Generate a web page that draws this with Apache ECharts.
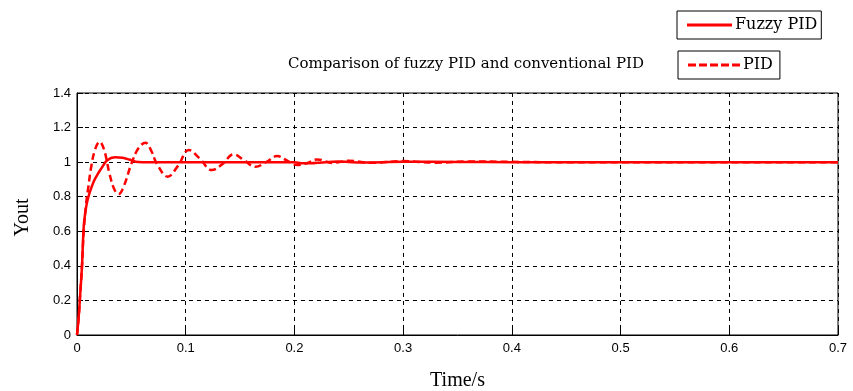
<!DOCTYPE html>
<html>
<head>
<meta charset="utf-8">
<script src="https://cdn.jsdelivr.net/npm/echarts@6/dist/echarts.min.js"></script>
<style>
  html, body { margin: 0; padding: 0; background: #fff; }
  #chart { width: 853px; height: 391px; }
</style>
</head>
<body>
<div id="chart"></div>
<script>
// fuzzy PID response
const fuzzyTime = [0, 0.0015, 0.003, 0.0046, 0.0062, 0.0084, 0.0105, 0.0125, 0.0155, 0.0185, 0.022, 0.0276, 0.035, 0.042, 0.048, 0.054, 0.06, 0.1, 0.2, 0.206, 0.215, 0.225, 0.24, 0.26, 0.3, 0.35, 0.4, 0.45, 0.7];
const fuzzyY = [0, 0.1, 0.24, 0.4, 0.63, 0.74, 0.8, 0.84, 0.89, 0.925, 0.96, 1.01, 1.028, 1.026, 1.015, 1.002, 1.0, 1.0, 1.0, 0.994, 0.993, 0.998, 1.003, 0.998, 1.002, 1.001, 1.0, 1.0, 1.0];

// conventional PID response
const pidTime = [0, 0.0015, 0.003, 0.0046, 0.0062, 0.0084, 0.0105, 0.013, 0.0165, 0.0208, 0.025, 0.03, 0.0345, 0.0383, 0.043, 0.05, 0.0565, 0.0629, 0.068, 0.0735, 0.0834, 0.093, 0.1028, 0.113, 0.124, 0.134, 0.144, 0.154, 0.164, 0.174, 0.184, 0.193, 0.2026, 0.212, 0.221, 0.235, 0.25, 0.27, 0.3, 0.33, 0.36, 0.4, 0.44, 0.5, 0.6, 0.7];
const pidY = [0, 0.1, 0.24, 0.4, 0.6, 0.76, 0.86, 0.97, 1.07, 1.118, 1.07, 0.93, 0.84, 0.815, 0.86, 0.99, 1.08, 1.112, 1.07, 0.99, 0.916, 0.98, 1.07, 1.02, 0.954, 0.99, 1.045, 1.01, 0.973, 1.0, 1.035, 1.01, 0.983, 0.995, 1.016, 0.995, 1.008, 0.996, 1.006, 0.997, 1.004, 1.002, 0.999, 1, 1, 1];

const xTicks = [0, 0.1, 0.2, 0.3, 0.4, 0.5, 0.6, 0.7];
const yTicks = [0, 0.2, 0.4, 0.6, 0.8, 1, 1.2, 1.4];

const serif = "Liberation Serif";
const slab = "DejaVu Serif";
const sans = "Liberation Sans";

// legend icons: plain line and five dashes, no marker
const solidIcon = "path://M0,0h45v3h-45z";
const dashIcon = "path://M0,0h8v3h-8zM11,0h8v3h-8zM22,0h8v3h-8zM33,0h8v3h-8zM44,0h8v3h-8z";

const chart = echarts.init(document.getElementById("chart"));

const toPairs = (xs, ys) => xs.map((x, i) => [x, ys[i]]);
const tickText = list => v => {
  const r = Math.round(v * 10) / 10;
  return list.includes(r) ? String(r) : "";
};

const boxLegend = (name, left, top, icon, w, padRight) => ({
  data: [{ name: name, icon: icon }],
  left: left,
  top: top,
  itemWidth: w,
  itemHeight: 3,
  itemGap: 0,
  padding: [6, padRight, 6, 10],
  borderColor: "#000",
  borderWidth: 1,
  borderRadius: 0,
  textStyle: { fontFamily: slab, fontSize: 16, lineHeight: 16, color: "#000", padding: [0, 0, 0, -2] }
});

chart.setOption({
  animation: false,
  backgroundColor: "#fff",
  title: {
    text: "Comparison of fuzzy PID and conventional PID",
    left: 283,
    top: 52,
    textStyle: { fontFamily: slab, fontSize: 15, fontWeight: "normal", color: "#000" }
  },
  legend: [
    boxLegend("Fuzzy PID", 677, 11, solidIcon, 45, 4),
    boxLegend("PID", 678, 51, dashIcon, 52, 7)
  ],
  grid: {
    left: 77,
    right: 15,
    top: 93,
    bottom: 56,
    outerBoundsMode: "none",
    containLabel: false,
    show: true,
    borderColor: "#000",
    borderWidth: 1,
    backgroundColor: "#fff"
  },
  xAxis: {
    type: "value",
    min: 0,
    max: 0.7,
    interval: 0.1,
    name: "Time/s",
    nameLocation: "middle",
    nameGap: 36,
    nameTextStyle: { fontFamily: serif, fontSize: 20, color: "#000" },
    axisLine: { show: true, lineStyle: { color: "#000", width: 1 } },
    axisTick: { show: true, inside: true, length: 6, lineStyle: { color: "#000" } },
    axisLabel: { margin: 7, fontFamily: sans, fontSize: 13, color: "#000", formatter: tickText(xTicks) },
    splitLine: { show: true, lineStyle: { color: "#000", type: [4, 4], width: 1 } }
  },
  yAxis: {
    type: "value",
    min: 0,
    max: 1.4,
    interval: 0.2,
    name: "Yout",
    nameLocation: "middle",
    nameGap: 44,
    nameRotate: 90,
    nameTextStyle: { fontFamily: serif, fontSize: 20, color: "#000", padding: [0, 7, 0, 0] },
    axisLine: { show: true, lineStyle: { color: "#000", width: 1 } },
    axisTick: { show: true, inside: true, length: 6, lineStyle: { color: "#000" } },
    axisLabel: { margin: 6, fontFamily: sans, fontSize: 13, color: "#000", formatter: tickText(yTicks) },
    splitLine: { show: true, lineStyle: { color: "#000", type: [4, 4], width: 1 } }
  },
  series: [
    {
      name: "Fuzzy PID",
      type: "line",
      data: toPairs(fuzzyTime, fuzzyY),
      symbol: "none",
      smooth: 0.3,
      lineStyle: { color: "#ff0000", width: 2.5 },
      itemStyle: { color: "#ff0000" },
      z: 3
    },
    {
      name: "PID",
      type: "line",
      data: toPairs(pidTime, pidY),
      symbol: "none",
      smooth: 0.4,
      lineStyle: { color: "#ff0000", width: 2.5, type: [7, 4] },
      itemStyle: { color: "#ff0000" },
      z: 2
    }
  ]
});
</script>
</body>
</html>
